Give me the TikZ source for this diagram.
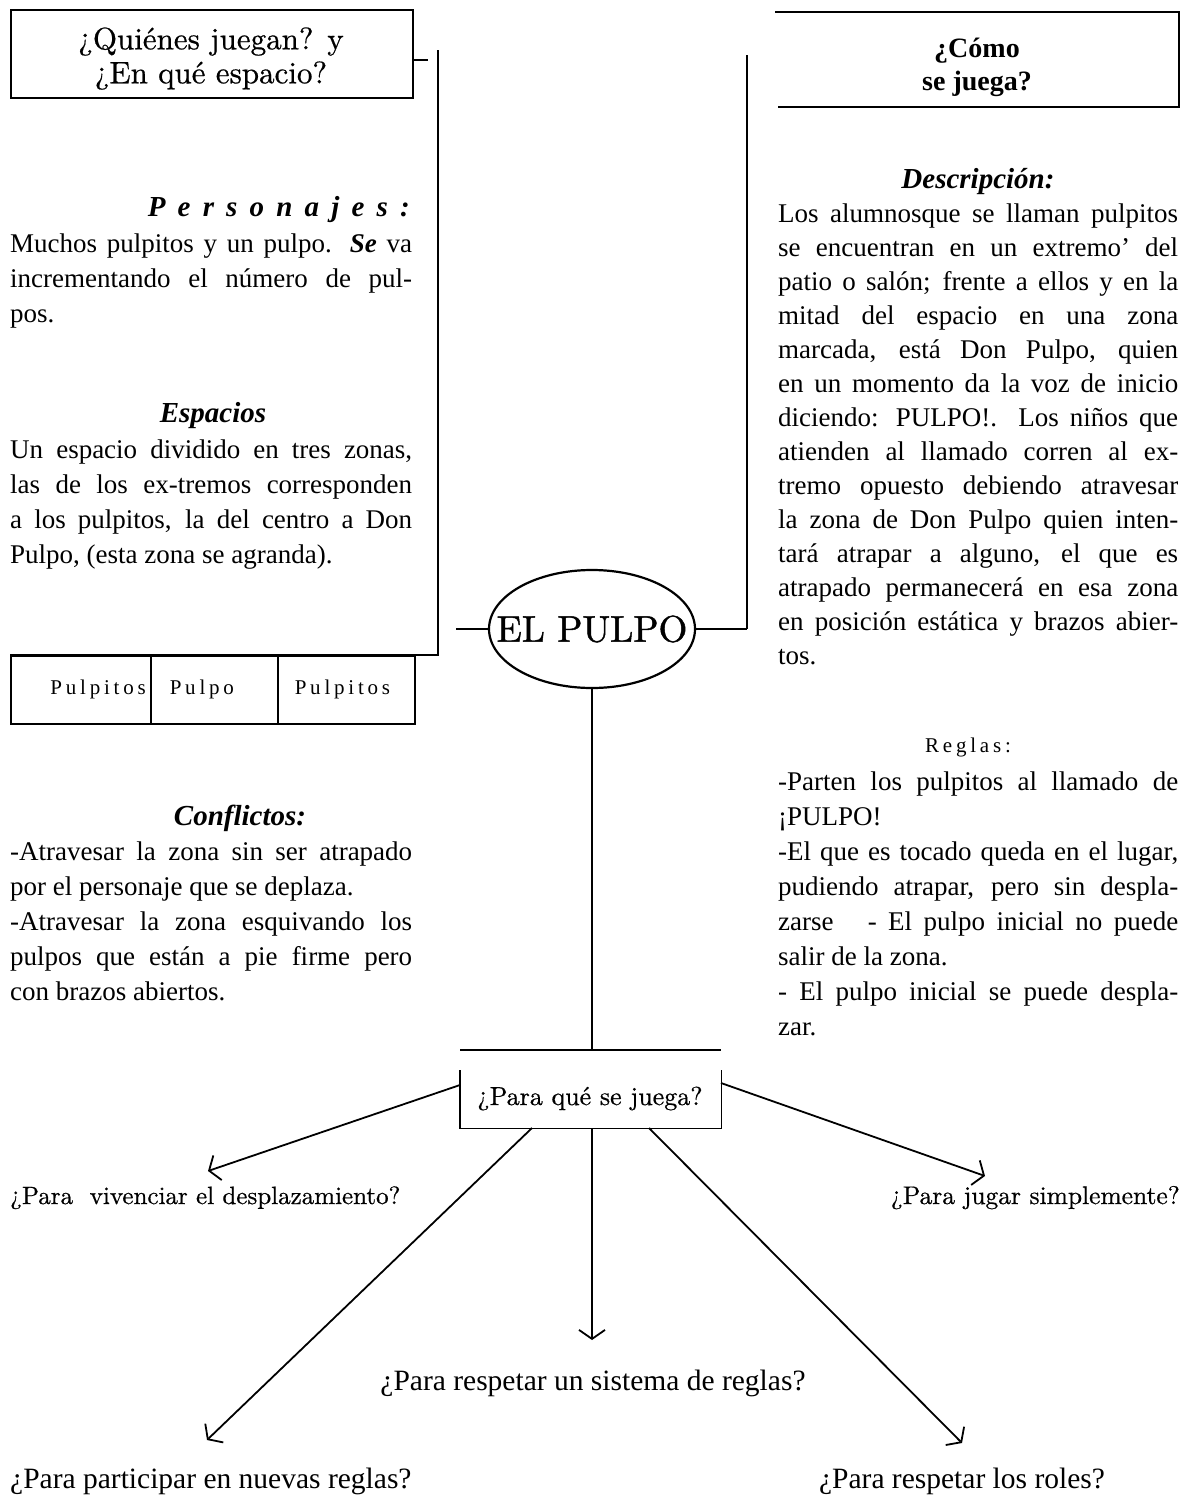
\documentclass[tikz,border=0pt]{standalone}
\usepackage{fontspec}
\setmainfont{Liberation Serif}
\newfontfamily\goudy[FakeBold=0.6]{lmroman10-regular.otf}
\newfontfamily\goudyb[FakeBold=1.2]{lmroman10-regular.otf}
\usetikzlibrary{arrows.meta,shapes.geometric}
\newcommand\jl[1]{\makebox[402pt][s]{#1}}
\newcommand\jr[1]{\makebox[400pt][s]{#1}}
\newcommand\ts{\rule{0pt}{1.1em}}
\begin{document}
\begin{tikzpicture}[x=1pt,y=-1pt,
  txt/.style={font=\fontsize{27}{35}\selectfont, inner sep=0pt, align=left, anchor=north west},
  txtd/.style={font=\fontsize{27}{34}\selectfont, inner sep=0pt, align=left, anchor=north west},
  hd/.style={font=\fontsize{29}{34}\selectfont\bfseries\itshape, inner sep=0pt, anchor=base},
  lsp/.style={font=\fontsize{21}{24}\selectfont\addfontfeature{LetterSpace=18}, inner sep=0pt},
  gd/.style={font=\goudy\fontsize{31}{34}\selectfont, inner sep=0pt},
  heavy/.style={line width=2.8pt},
  lite/.style={line width=1.6pt},
  arr/.style={line width=1.8pt, -{Straight Barb[length=9pt,width=26pt,line width=1.8pt]}},
  lab/.style={font=\fontsize{29.5}{34}\selectfont, inner sep=0pt, anchor=base},
  labg/.style={font=\goudy\fontsize{25}{30}\selectfont, inner sep=0pt, anchor=base},
  cellbox/.style={lsp, draw, lite, anchor=north west, minimum height=68pt, inner ysep=0pt},
]
\useasboundingbox[fill=white] (0,0) rectangle (1190,1499);

% ---- top-left box
\node[draw, lite, minimum width=402pt, minimum height=88pt, inner sep=0pt, anchor=north west] (qbox) at (10,9) {};
\node[gd, align=center, anchor=north] (qtxt) at (211,15) {\ts ¿Quiénes juegan? y\\¿En qué espacio?};
\coordinate (tk1) at (412,60);
\coordinate (tk2) at (428,60);
\draw[heavy] (tk1) -- (tk2);
\coordinate (lf1) at (438,50);
\coordinate (lf2) at (438,655);
\coordinate (lf3) at (10,655);
\draw[heavy] (lf1) -- (lf2) -- (lf3);

% ---- left column
\node[hd, anchor=base east, font=\fontsize{29}{34}\selectfont\bfseries\itshape\addfontfeature{LetterSpace=42}] (pers) at (410,216) {Personajes:};
\node[txt] (perstxt) at (10,222.3) {\jl{\ts Muchos pulpitos y un pulpo. \textbf{\textit{Se}} va}\\
\jl{incrementando el número de pul-}\\
pos.};
\node[hd] (esp) at (213,422) {Espacios};
\node[txt] (esptxt) at (10,428.3) {\jl{\ts Un espacio dividido en tres zonas,}\\
\jl{las de los ex-tremos corresponden}\\
\jl{a los pulpitos, la del centro a Don}\\
Pulpo,\ (esta\ zona\ se\ agranda).};

% ---- table
\node[cellbox, text width=130pt, inner xsep=5pt, align=right] (c1) at (10,655) {Pulpitos};
\node[cellbox, text width=89pt, inner xsep=19pt, align=left] (c2) at (150,655) {Pulpo};
\node[cellbox, text width=103pt, inner xsep=17pt, align=left] (c3) at (277,655) {Pulpitos};

% ---- conflicts
\node[hd] (conf) at (240,825) {Conflictos:};
\node[txt] (conftxt) at (10,830.3) {\jl{\ts -Atravesar la zona sin ser atrapado}\\
por el personaje que se deplaza.\\
\jl{-Atravesar la zona esquivando los}\\
\jl{pulpos que están a pie firme pero}\\
con brazos abiertos.};

% ---- top-right box
\coordinate (tr1) at (775,12);
\coordinate (tr2) at (1179,12);
\coordinate (tr3) at (1179,107);
\coordinate (tr4) at (778,107);
\draw[heavy] (tr1) -- (tr2) -- (tr3) -- (tr4);
\node[font=\fontsize{28}{33}\selectfont\bfseries, inner sep=0pt, align=center, anchor=north] (como) at (977,26.2) {\ts ¿Cómo\\se juega?};
\coordinate (rv1) at (747,55);
\coordinate (rv2) at (747,629);
\draw[heavy] (rv1) -- (rv2);

% ---- description
\node[hd] (desc) at (978,188) {Descripción:};
\node[txtd] (desctxt) at (778,192.3) {\jr{\ts Los alumnosque se llaman pulpitos}\\
\jr{se encuentran en un extremo’ del}\\
\jr{patio o salón; frente a ellos y en la}\\
\jr{mitad del espacio en una zona}\\
\jr{marcada, está Don Pulpo, quien}\\
\jr{en un momento da la voz de inicio}\\
\jr{diciendo: PULPO!. Los niños que}\\
\jr{atienden al llamado corren al ex-}\\
\jr{tremo opuesto debiendo atravesar}\\
\jr{la zona de Don Pulpo quien inten-}\\
\jr{tará atrapar a alguno, el que es}\\
\jr{atrapado permanecerá en esa zona}\\
\jr{en posición estática y brazos abier-}\\
tos.};

% ---- rules
\node[lsp, anchor=base] (reg) at (968,752) {Reglas:};
\node[txt] (regtxt) at (778,760.3) {\jr{\ts -Parten los pulpitos al llamado de}\\
¡PULPO!\\
\jr{-El que es tocado queda en el lugar,}\\
\jr{pudiendo atrapar, pero sin despla-}\\
\jr{zarse\ \ \ - El pulpo inicial no puede}\\
salir de la zona.\\
\jr{- El pulpo inicial se puede despla-}\\
zar.};

% ---- centre
\node[ellipse, draw, line width=2.2pt, minimum width=206pt, minimum height=118pt, inner sep=0pt] (pulpo) at (592,629) {};
\node[font=\goudyb\fontsize{37}{40}\selectfont, inner sep=0pt] (pulpotxt) at (592,629) {EL PULPO};
\coordinate (cl) at (456,629);
\draw[lite] (cl) -- (pulpo.west);
\draw[lite] (pulpo.east) -- (rv2);

\coordinate (hl1) at (460,1050);
\coordinate (hl2) at (721,1050);
\coordinate (hmid) at (592,1050);
\draw[heavy] (pulpo.south) -- (hmid);
\draw[heavy] (hl1) -- (hl2);

\node[minimum width=261pt, minimum height=58pt, inner sep=0pt, anchor=north west] (para) at (460,1070) {};
\draw[lite] (para.north west) -- (para.south west) -- (para.south east) -- (para.north east);
\node[labg, font=\goudy\fontsize{26}{30}\selectfont] (paratxt) at (590,1105) {¿Para qué se juega?};

% ---- arrows
\coordinate (sL) at (460,1085);
\coordinate (sR) at (721,1083);
\coordinate (sBL) at (532,1128);
\coordinate (sC) at (592,1128);
\coordinate (sBR) at (649,1128);
\coordinate (tL) at (208,1171);
\coordinate (tR) at (985,1176);
\coordinate (tBL) at (207,1440);
\coordinate (tC) at (592,1340);
\coordinate (tBR) at (962,1443);
\draw[arr] (sL) -- (tL);
\draw[arr] (sR) -- (tR);
\draw[arr] (sBL) -- (tBL);
\draw[arr] (sC) -- (tC);
\draw[arr] (sBR) -- (tBR);

% ---- answers
\node[labg, anchor=base west] (l1) at (10,1204) {¿Para\ \ vivenciar el desplazamiento?};
\node[labg, anchor=base east, font=\goudy\fontsize{25.5}{30}\selectfont] (l2) at (1180,1204) {¿Para jugar simplemente?};
\node[lab] (l3) at (593,1390) {¿Para respetar un sistema de reglas?};
\node[lab, anchor=base west] (l4) at (10,1488) {¿Para participar en nuevas reglas?};
\node[lab] (l5) at (962,1488) {¿Para respetar los roles?};
\end{tikzpicture}
\end{document}
